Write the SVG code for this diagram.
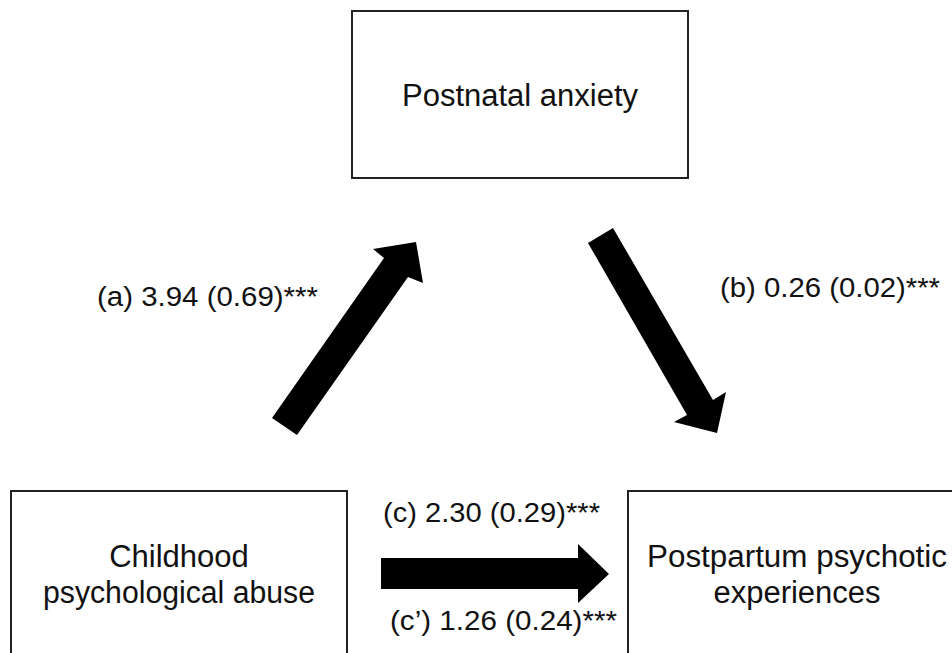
<svg xmlns="http://www.w3.org/2000/svg" width="952" height="653" viewBox="0 0 952 653">
  <style>
    .box { fill: #ffffff; stroke: #222222; stroke-width: 2; }
    .node-text { font-family: "Liberation Sans", Arial, sans-serif; font-size: 31px; fill: #111111; text-anchor: middle; }
    .label { font-family: "Liberation Sans", Arial, sans-serif; font-size: 27px; fill: #111111; }
    .arrow { fill: #000000; stroke: none; }
  </style>
  <rect x="0" y="0" width="952" height="653" fill="#ffffff"/>

  <g id="node-postnatal-anxiety">
    <rect class="box" x="352" y="11" width="336" height="167"/>
    <text class="node-text" x="520" y="106" textLength="236" lengthAdjust="spacingAndGlyphs">Postnatal anxiety</text>
  </g>

  <g id="node-childhood-abuse">
    <rect class="box" x="11" y="491" width="336" height="190"/>
    <text class="node-text" x="179" y="567">Childhood</text>
    <text class="node-text" x="179" y="603" textLength="272" lengthAdjust="spacingAndGlyphs">psychological abuse</text>
  </g>

  <g id="node-postpartum-psychotic">
    <rect class="box" x="628" y="491" width="350" height="190"/>
    <text class="node-text" x="797" y="567" textLength="300" lengthAdjust="spacingAndGlyphs">Postpartum psychotic</text>
    <text class="node-text" x="797" y="603">experiences</text>
  </g>

  <g id="connectors">
    <polygon id="arrow-a" class="arrow" points="272,418 384,258 373,249 416,242 423,283 408,277 297,435"/>
    <polygon id="arrow-b" class="arrow" points="588,243 613,228 713,400 726,392 717,433 674,422 687,415"/>
    <polygon id="arrow-c" class="arrow" points="381,558 578,558 578,544 609,574 578,603 578,589 381,589"/>
    <text class="label" x="97" y="306" textLength="221" lengthAdjust="spacingAndGlyphs">(a) 3.94 (0.69)***</text>
    <text class="label" x="720" y="297" textLength="220" lengthAdjust="spacingAndGlyphs">(b) 0.26 (0.02)***</text>
    <text class="label" x="383" y="522" textLength="217" lengthAdjust="spacingAndGlyphs">(c) 2.30 (0.29)***</text>
    <text class="label" x="390" y="630" textLength="227" lengthAdjust="spacingAndGlyphs">(c’) 1.26 (0.24)***</text>
  </g>
</svg>
